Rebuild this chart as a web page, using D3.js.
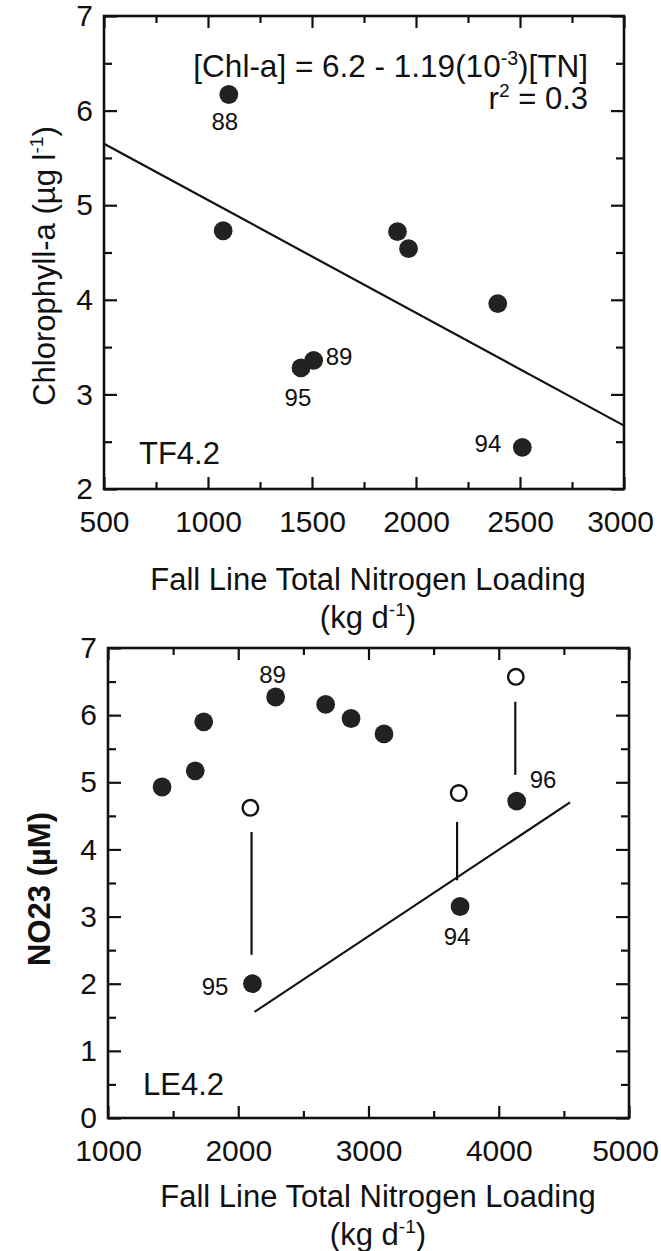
<!DOCTYPE html>
<html>
<head>
<meta charset="utf-8">
<script src="https://cdn.jsdelivr.net/npm/d3@7"></script>
<style>
  body { margin: 0; background: #fff; }
  text { font-family: "Liberation Sans", Arial, Helvetica, sans-serif; fill: #111; }
</style>
</head>
<body>
<svg id="chart" width="661" height="1251"></svg>
<script>
//* Data *//

// TF4.2 : chlorophyll-a vs fall line TN loading
const tfLoad = [1100, 1073, 1911, 1964, 2393, 1508, 1447, 2511];
const tfChl  = [6.17, 4.73, 4.72, 4.54, 3.96, 3.36, 3.28, 2.44];
const tfYear = ["88", "", "", "", "", "89", "95", "94"];
const tfFitLoad = [500, 3000];
const tfFitChl  = [5.65, 2.67];
const tfXTicks = [500, 1000, 1500, 2000, 2500, 3000];
const tfYTicks = [2, 3, 4, 5, 6, 7];

// LE4.2 : NO23 vs fall line TN loading
const leLoad = [1415, 1670, 1735, 2287, 2671, 2866, 3119, 2109, 3703, 4138];
const leNO23 = [4.93, 5.17, 5.90, 6.27, 6.16, 5.95, 5.72, 2.00, 3.15, 4.72];
const leYear = ["", "", "", "89", "", "", "", "95", "94", "96"];
const leOpenLoad = [2093, 3693, 4131];
const leOpenNO23 = [4.62, 4.84, 6.57];
const leLinkLoad = [2102, 3680, 4127];
const leLinkTop  = [4.26, 4.41, 6.20];
const leLinkBot  = [2.43, 3.54, 5.11];
const leFitLoad = [2125, 4547];
const leFitNO23 = [1.58, 4.70];
const leXTicks = [1000, 2000, 3000, 4000, 5000];
const leYTicks = [0, 1, 2, 3, 4, 5, 6, 7];

const svg = d3.select("#chart");
const ink = "#111";

// superscript helper: parts = [[text, isSup], ...]
function richText(sel, parts) {
  parts.forEach(function(p) {
    if (p[1]) {
      sel.append("tspan").attr("font-size", "0.62em").attr("dy", "-0.62em").text(p[0]);
    } else {
      sel.append("tspan").attr("dy", sel.selectAll("tspan").size() > 0 ? "0.38em" : null).text(p[0]);
    }
  });
  return sel;
}

function drawPanel(o) {
  const x = d3.scaleLinear().domain(o.xDomain).range([o.left, o.right]);
  const y = d3.scaleLinear().domain(o.yDomain).range([o.bottom, o.top]);
  const g = svg.append("g");

  const xMinor = d3.range(o.xDomain[0], o.xDomain[1] + 1, o.xMinorStep).filter(v => o.xTicks.indexOf(v) < 0);
  const yMinor = d3.range(o.yDomain[0], o.yDomain[1] + 0.01, 0.5).filter(v => o.yTicks.indexOf(v) < 0);

  function tickAxis(axis, tr) {
    const a = g.append("g").attr("transform", tr).call(axis);
    a.select(".domain").remove();
    a.selectAll("line").attr("stroke", ink).attr("stroke-width", 2.2);
    a.selectAll("text").attr("font-size", "30px").attr("fill", ink).attr("font-family", null);
    return a;
  }

  // bottom and left, with labels
  const xa = tickAxis(d3.axisBottom(x).tickValues(o.xTicks).tickSize(-12).tickPadding(22).tickFormat(d3.format("d")),
    "translate(0," + o.bottom + ")");
  // last label sits a bit inside the page edge
  xa.selectAll("text").filter(d => d === o.xDomain[1]).attr("dx", -4);
  tickAxis(d3.axisLeft(y).tickValues(o.yTicks).tickSize(-13).tickPadding(11).tickFormat(d3.format("d")),
    "translate(" + o.left + ",0)");
  // minor ticks and mirrored ticks on top/right
  tickAxis(d3.axisBottom(x).tickValues(xMinor).tickSize(-7).tickFormat(""), "translate(0," + o.bottom + ")");
  tickAxis(d3.axisLeft(y).tickValues(yMinor).tickSize(-8).tickFormat(""), "translate(" + o.left + ",0)");
  tickAxis(d3.axisTop(x).tickValues(o.xTicks).tickSize(-12).tickFormat(""), "translate(0," + o.top + ")");
  tickAxis(d3.axisTop(x).tickValues(xMinor).tickSize(-7).tickFormat(""), "translate(0," + o.top + ")");
  tickAxis(d3.axisRight(y).tickValues(o.yTicks).tickSize(-13).tickFormat(""), "translate(" + o.right + ",0)");
  tickAxis(d3.axisRight(y).tickValues(yMinor).tickSize(-8).tickFormat(""), "translate(" + o.right + ",0)");

  // frame
  g.append("rect")
    .attr("x", o.left).attr("y", o.top)
    .attr("width", o.right - o.left).attr("height", o.bottom - o.top)
    .attr("fill", "none").attr("stroke", ink).attr("stroke-width", 2.6);

  // regression line
  const fit = o.fitX.map((v, i) => [v, o.fitY[i]]);
  g.append("path")
    .attr("d", d3.line().x(d => x(d[0])).y(d => y(d[1]))(fit))
    .attr("fill", "none").attr("stroke", ink).attr("stroke-width", 2.2);

  // connectors between open and filled points
  if (o.linkX) {
    g.selectAll(".link").data(o.linkX).enter().append("line")
      .attr("x1", d => x(d)).attr("x2", d => x(d))
      .attr("y1", (d, i) => y(o.linkTop[i])).attr("y2", (d, i) => y(o.linkBot[i]))
      .attr("stroke", ink).attr("stroke-width", 2.2);
  }

  // open circles
  if (o.openX) {
    g.selectAll(".open").data(o.openX).enter().append("circle")
      .attr("cx", d => x(d)).attr("cy", (d, i) => y(o.openY[i]))
      .attr("r", 7.8).attr("fill", "#fff").attr("stroke", ink).attr("stroke-width", 2.4);
  }

  // filled circles
  g.selectAll(".dot").data(o.ptX).enter().append("circle")
    .attr("cx", d => x(d)).attr("cy", (d, i) => y(o.ptY[i]))
    .attr("r", 9.4).attr("fill", "#222");

  // year labels
  o.ptLabel.forEach(function(lab, i) {
    if (!lab) return;
    const off = o.labelOffset[lab];
    g.append("text")
      .attr("x", x(o.ptX[i]) + off[0]).attr("y", y(o.ptY[i]) + off[1])
      .attr("text-anchor", off[2]).attr("font-size", "24px").text(lab);
  });

  // station name
  g.append("text").attr("x", o.station[1]).attr("y", o.station[2])
    .attr("font-size", "31px").text(o.station[0]);

  // x axis title (two lines)
  g.append("text").attr("x", o.xTitleX).attr("y", o.xTitleY)
    .attr("text-anchor", "middle").attr("font-size", "31px").text("Fall Line Total Nitrogen Loading");
  richText(g.append("text").attr("x", o.xTitleX).attr("y", o.xTitleY + 26)
    .attr("text-anchor", "middle").attr("font-size", "31px"), [["(kg d", false], ["-1", true], [")", false]]);

  // y axis title
  richText(g.append("text").attr("transform", "translate(" + o.yTitle[0] + "," + o.yTitle[1] + ") rotate(-90)")
    .attr("text-anchor", "middle").attr("font-size", "31px").attr("font-weight", o.yTitleWeight), o.yTitleParts);

  return g;
}

//* Top panel *//
const topPanel = drawPanel({
  xDomain: [500, 3000], yDomain: [2, 7],
  left: 104, right: 624, top: 16, bottom: 489,
  xTicks: tfXTicks, yTicks: tfYTicks, xMinorStep: 250,
  ptX: tfLoad, ptY: tfChl, ptLabel: tfYear,
  labelOffset: { "88": [-4, 35, "middle"], "89": [12, 5, "start"], "95": [-3, 38, "middle"], "94": [-21, 5, "end"] },
  fitX: tfFitLoad, fitY: tfFitChl,
  station: ["TF4.2", 139, 464],
  xTitleX: 368, xTitleY: 590,
  yTitle: [43, 266], yTitleWeight: "normal",
  yTitleParts: [["Chlorophyll-a (\u00b5g l", false], ["-1", true], [")", false]]
});

// equation text
richText(topPanel.append("text").attr("x", 588).attr("y", 65).attr("text-anchor", "end").attr("font-size", "31.5px"),
  [["[Chl-a] = 6.2 - 1.19(10", false], ["-3", true], [")[TN]", false]]);
richText(topPanel.append("text").attr("x", 588).attr("y", 97).attr("text-anchor", "end").attr("font-size", "31px"),
  [["r", false], ["2", true], [" = 0.3", false]]);

//* Bottom panel *//
drawPanel({
  xDomain: [1000, 5000], yDomain: [0, 7],
  left: 108, right: 629, top: 648, bottom: 1118,
  xTicks: leXTicks, yTicks: leYTicks, xMinorStep: 500,
  ptX: leLoad, ptY: leNO23, ptLabel: leYear,
  labelOffset: { "89": [-3, -14, "middle"], "95": [-24, 11, "end"], "94": [-3, 38, "middle"], "96": [13, -13, "start"] },
  openX: leOpenLoad, openY: leOpenNO23,
  linkX: leLinkLoad, linkTop: leLinkTop, linkBot: leLinkBot,
  fitX: leFitLoad, fitY: leFitNO23,
  station: ["LE4.2", 143, 1095],
  xTitleX: 378, xTitleY: 1207,
  yTitle: [38, 889], yTitleWeight: "bold",
  yTitleParts: [["NO23 (\u00b5M)", false]]
});
</script>
</body>
</html>
